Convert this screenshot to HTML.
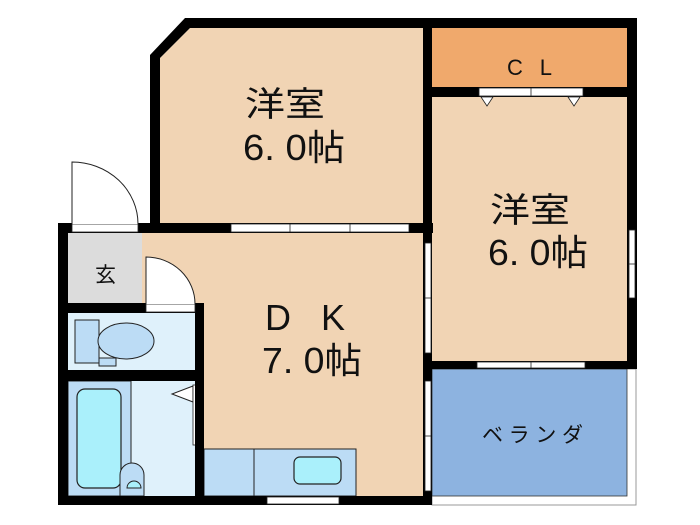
<!DOCTYPE html>
<html><head><meta charset="utf-8"><style>
html,body{margin:0;padding:0;background:#fff;width:700px;height:525px;overflow:hidden}
text{font-family:"Liberation Sans","Noto Sans CJK JP",sans-serif;fill:#111}
</style></head><body>
<svg width="700" height="525" viewBox="0 0 700 525" xmlns="http://www.w3.org/2000/svg">
<polygon points="160,58 190,28 423,28 423,223 160,223" fill="#f1d4b4"/>
<rect x="432" y="28" width="195" height="59" fill="#f0a96c"/>
<rect x="432" y="97" width="195" height="264" fill="#f1d4b4"/>
<rect x="204" y="233" width="219" height="263" fill="#f1d4b4"/>
<rect x="68" y="233" width="74" height="70" fill="#dcdcdc"/>
<rect x="142" y="233" width="62" height="70" fill="#f1d4b4"/>
<rect x="68" y="313" width="127" height="57" fill="#dff1fb"/>
<rect x="68" y="381" width="127" height="115" fill="#dff1fb"/>
<rect x="68" y="381" width="63" height="115" fill="#bcdcf5" stroke="#222" stroke-width="1"/>
<rect x="77" y="389" width="44" height="99" rx="8" fill="#aaf0fb" stroke="#222" stroke-width="1.2"/>
<path d="M120,496 L120,475 A12,12 0 0 1 144,475 L144,496 Z" fill="#bcdcf5" stroke="#222"/>
<path d="M127,488 A7,7 0 0 1 141,488 Z" fill="#aaf0fb" stroke="#222"/>
<path d="M193,386 L172,394 L193,402 Z" fill="#fff" stroke="#222"/>
<rect x="193" y="385" width="9" height="60" fill="#fff" stroke="#222" stroke-width="0.8"/>
<rect x="75" y="320" width="24" height="43" fill="#bcdcf5" stroke="#222"/>
<rect x="99" y="358" width="17" height="8" fill="#bcdcf5" stroke="#222"/>
<ellipse cx="126" cy="341" rx="28" ry="18" fill="#bcdcf5" stroke="#222"/>
<rect x="432" y="369" width="204" height="136" fill="#fff" stroke="#999" stroke-width="1"/>
<rect x="432" y="369" width="195" height="127" fill="#8db3e0" stroke="#333" stroke-width="0.8"/>
<rect x="204" y="449" width="152" height="47" fill="#bcdcf5" stroke="#222"/>
<line x1="254" y1="449" x2="254" y2="496" stroke="#222"/>
<rect x="294" y="457" width="47" height="27" rx="6" fill="#aaf0fb" stroke="#222" stroke-width="1.2"/>
<g fill="#000">
<polygon points="150,55 185,18 637,18 637,28 190,28 160,58 160,233 150,233"/>
<rect x="58" y="223" width="102" height="10"/>
<rect x="58" y="223" width="10" height="282"/>
<rect x="150" y="223" width="283" height="10"/>
<rect x="423" y="18" width="9" height="487"/>
<rect x="627" y="18" width="10" height="351"/>
<rect x="423" y="87" width="214" height="10"/>
<rect x="423" y="361" width="214" height="8"/>
<rect x="58" y="303" width="146" height="10"/>
<rect x="58" y="370" width="146" height="11"/>
<rect x="195" y="303" width="9" height="202"/>
<rect x="58" y="496" width="374" height="9"/>
</g>
<rect x="72" y="224" width="66" height="8" fill="#fff" stroke="#222" stroke-width="0.8"/>
<path d="M72,224 L72,162 A66,62 0 0 1 138,224" fill="#fff" stroke="#222" stroke-width="1"/>
<rect x="146" y="304" width="49" height="8" fill="#fff" stroke="#222" stroke-width="0.8"/>
<path d="M146,304 L146,257 A49,47 0 0 1 195,304" fill="#fff" stroke="#222" stroke-width="1"/>
<g fill="#fff" stroke="#222" stroke-width="0.8">
<rect x="231" y="224" width="178" height="8"/>
<line x1="290" y1="224" x2="290" y2="232"/><line x1="350" y1="224" x2="350" y2="232"/>
<rect x="479" y="88" width="104" height="8"/>
<line x1="531" y1="88" x2="531" y2="96"/>
<rect x="267" y="497" width="72" height="7"/>
<rect x="425" y="243" width="6" height="110"/>
<line x1="425" y1="298" x2="431" y2="298"/>
<rect x="425" y="381" width="6" height="110"/>
<line x1="425" y1="436" x2="431" y2="436"/>
<rect x="629" y="230" width="6" height="68"/>
<line x1="629" y1="264" x2="635" y2="264"/>
<rect x="477" y="362" width="108" height="6"/>
<line x1="531" y1="362" x2="531" y2="368"/>
<path d="M481,97 L487,106 L493,97 Z"/>
<path d="M568,97 L574,106 L580,97 Z"/>
</g>
<text x="245" y="116" font-size="34" textLength="80" lengthAdjust="spacingAndGlyphs">洋室</text>
<text x="243" y="160" font-size="36" textLength="102" lengthAdjust="spacingAndGlyphs">6. 0帖</text>
<text x="490" y="222" font-size="34" textLength="80" lengthAdjust="spacingAndGlyphs">洋室</text>
<text x="488" y="265" font-size="36" textLength="100" lengthAdjust="spacingAndGlyphs">6. 0帖</text>
<text x="507" y="75" font-size="22" textLength="45" lengthAdjust="spacing">C L</text>
<text x="265" y="330" font-size="36" textLength="80" lengthAdjust="spacing">D K</text>
<text x="262" y="373" font-size="36" textLength="100" lengthAdjust="spacingAndGlyphs">7. 0帖</text>
<text x="95" y="282" font-size="21">玄</text>
<text x="482" y="442" font-size="21" textLength="101" lengthAdjust="spacing">ベランダ</text>
</svg>
</body></html>
